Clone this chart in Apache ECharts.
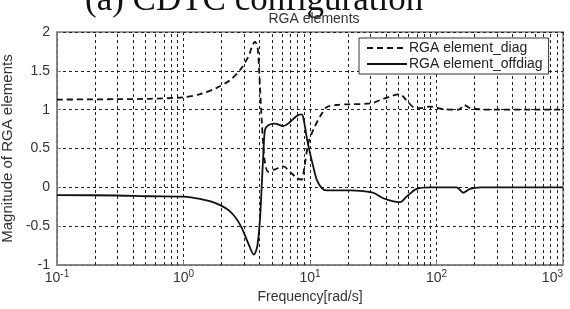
<!DOCTYPE html>
<html>
<head>
<meta charset="utf-8">
<script src="https://cdn.jsdelivr.net/npm/echarts@6/dist/echarts.min.js"></script>
<style>
  html, body { margin: 0; padding: 0; background: #fff; }
  #chart { width: 570px; height: 309px; }
</style>
</head>
<body>
<div id="chart"></div>
<script>
// RGA element, frequency in rad/s
var freqDiag = [0.1, 0.3, 0.54, 1.0, 1.35, 1.83, 2.33, 2.8, 3.25, 3.5, 3.67, 3.85, 3.95, 4.02, 4.15, 4.28, 4.41, 4.68, 5.28, 6.15, 6.95, 7.85, 8.6, 8.97, 9.7, 10.6, 12, 13.5, 16.2, 20.7, 30, 38, 45, 51, 58, 66, 75, 88, 110, 150, 165, 185, 250, 1000];
var valDiag = [1.13, 1.135, 1.14, 1.16, 1.2, 1.28, 1.38, 1.51, 1.68, 1.82, 1.876, 1.8, 1.55, 1.3, 0.87, 0.53, 0.31, 0.2, 0.23, 0.27, 0.2, 0.12, 0.1, 0.23, 0.57, 0.74, 0.91, 1.03, 1.06, 1.07, 1.08, 1.14, 1.18, 1.2, 1.12, 1.03, 1.02, 1.04, 1.01, 1.0, 1.06, 1.02, 1.0, 1.0];

var freqOff = [0.1, 0.3, 0.54, 1.0, 1.35, 1.83, 2.33, 2.8, 3.25, 3.6, 3.83, 4.02, 4.15, 4.28, 4.41, 4.68, 5.28, 6.15, 6.95, 7.85, 8.6, 8.97, 9.4, 10, 10.6, 11.3, 12.4, 13.5, 20.7, 26.4, 31.6, 38, 45.6, 51.5, 58, 69.6, 89, 144, 163, 184, 224, 1000];
var valOff = [-0.1, -0.105, -0.115, -0.12, -0.15, -0.21, -0.31, -0.48, -0.72, -0.866, -0.76, -0.42, 0.01, 0.44, 0.74, 0.8, 0.82, 0.79, 0.84, 0.92, 0.94, 0.85, 0.65, 0.44, 0.27, 0.1, -0.01, -0.04, -0.04, -0.05, -0.07, -0.14, -0.18, -0.19, -0.12, -0.02, 0.0, 0.0, -0.07, -0.02, 0.0, 0.0];

// minor grid positions on the log axis
var minorTicks = [0.2, 0.3, 0.4, 0.5, 0.6, 0.7, 0.8, 0.9, 2, 3, 4, 5, 6, 7, 8, 9, 20, 30, 40, 50, 60, 70, 80, 90, 200, 300, 400, 500, 600, 700, 800, 900];
var seriesNames = ['RGA element_diag', 'RGA element_offdiag'];

var chart = echarts.init(document.getElementById('chart'));

function pairs(xs, ys) {
  return xs.map(function (x, i) { return [x, ys[i]]; });
}

var gridLine = { type: [3, 3], color: '#222', width: 1 };
var sans = 'Liberation Sans';

function supLabel(v) {
  var e = Math.round(Math.log(v) / Math.LN10);
  return '{b|10}{s|' + e + '}';
}

var option = {
  animation: false,
  backgroundColor: '#fff',
  title: [
    {
      text: '(a) CDTC configuration',
      left: 80,
      top: -22,
      textStyle: { fontFamily: 'Liberation Serif', fontSize: 35, fontWeight: 'normal', color: '#111' },
    },
    {
      text: 'RGA elements',
      left: 309,
      textAlign: 'center',
      top: 7,
      textStyle: { fontFamily: sans, fontSize: 14, fontWeight: 'normal', color: '#333' },
    },
  ],
  grid: {
    left: 57,
    right: 7,
    top: 32,
    bottom: 44,
    outerBoundsMode: 'none',
    containLabel: false,
    show: true,
    borderColor: '#808080',
    borderWidth: 1.5,
  },
  legend: {
    left: 359,
    top: 38,
    orient: 'vertical',
    backgroundColor: '#fff',
    borderColor: '#333',
    borderWidth: 1,
    borderRadius: 0,
    padding: [3, 6, 3, 7],
    itemGap: 2,
    itemWidth: 40,
    itemHeight: 14,
    itemStyle: { opacity: 0 },
    data: seriesNames,
    textStyle: { fontFamily: sans, fontSize: 14, color: '#222', padding: [0, 0, 0, -3] },
  },
  xAxis: {
    type: 'log',
    logBase: 10,
    min: 0.1,
    max: 1000,
    name: 'Frequency[rad/s]',
    nameLocation: 'middle',
    nameGap: 20,
    nameTextStyle: { fontFamily: sans, fontSize: 14, color: '#333' },
    axisLine: { show: true, onZero: false, lineStyle: { color: '#808080', width: 1.5 } },
    axisTick: { show: true, inside: true, length: 4, lineStyle: { color: '#808080' } },
    axisLabel: {
      formatter: supLabel,
      margin: 4,
      alignMaxLabel: 'right',
      rich: {
        b: { fontFamily: sans, fontSize: 14, color: '#333' },
        s: { fontFamily: sans, fontSize: 10, color: '#333', padding: [0, 0, 9, 0] },
      },
    },
    splitLine: { show: true, lineStyle: gridLine },
  },
  yAxis: {
    type: 'value',
    min: -1,
    max: 2,
    interval: 0.5,
    name: 'Magnitude of RGA elements',
    nameLocation: 'middle',
    nameGap: 32,
    nameTextStyle: { fontFamily: sans, fontSize: 15, color: '#333' },
    axisLine: { show: true, lineStyle: { color: '#808080', width: 1.5 } },
    axisTick: { show: true, inside: true, length: 4, lineStyle: { color: '#808080' } },
    axisLabel: { fontFamily: sans, fontSize: 14, color: '#333', margin: 7 },
    splitLine: { show: true, lineStyle: gridLine },
  },
  series: [
    {
      name: seriesNames[0],
      type: 'line',
      data: pairs(freqDiag, valDiag),
      symbol: 'none',
      smooth: 0.3,
      lineStyle: { color: '#111', width: 1.8, type: [6, 4] },
      itemStyle: { color: '#111' },
      z: 5,
      markLine: {
        silent: true,
        symbol: 'none',
        label: { show: false },
        lineStyle: gridLine,
        data: minorTicks.map(function (t) { return { xAxis: t }; }),
        z: 1,
      },
    },
    {
      name: seriesNames[1],
      type: 'line',
      data: pairs(freqOff, valOff),
      symbol: 'none',
      smooth: 0.3,
      lineStyle: { color: '#111', width: 1.8 },
      itemStyle: { color: '#111' },
      z: 5,
    },
  ],
};

chart.setOption(option);
</script>
</body>
</html>
